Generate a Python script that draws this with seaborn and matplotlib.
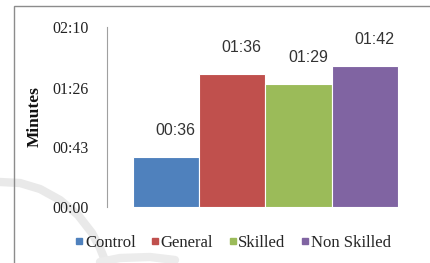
import matplotlib
matplotlib.use("Agg")
import matplotlib.pyplot as plt
import seaborn as sns
import pandas as pd
from matplotlib.lines import Line2D
from matplotlib.patches import Rectangle

categories = ["Control", "General", "Skilled", "Non Skilled"]
seconds = [36, 96, 89, 102]
labels = ["00:36", "01:36", "01:29", "01:42"]
tick_values = [0, 43, 86, 130]
tick_labels = ["00:00", "00:43", "01:26", "02:10"]
colors = ["#4F81BD", "#C0504D", "#9BBB59", "#8064A2"]

sns.set_theme(style="white")
plt.rcParams["font.family"] = ["Liberation Serif", "DejaVu Serif"]
SERIF = ["Liberation Serif", "DejaVu Serif"]

df = pd.DataFrame({"cat": categories, "sec": seconds})

W, H = 430, 263
fig = plt.figure(figsize=(W / 100, H / 100), dpi=100)
fig.patch.set_facecolor("white")

# faint background watermark swoosh (decoration)
bg = fig.add_axes([0, 0, 1, 1], zorder=-5)
bg.set_xlim(0, W)
bg.set_ylim(H, 0)
bg.axis("off")
bg.plot([0, 20, 40, 60, 78, 92, 100, 106], [182, 183, 189, 200, 215, 233, 248, 263],
        color="#e9e9e9", lw=6, solid_capstyle="round")
bg.plot([100, 120, 150, 175], [262, 258, 257, 260], color="#ececec", lw=6)

# chart border
fig.add_artist(Rectangle((14 / W, -0.05), 1.0, 1 - 6 / H + 0.05, transform=fig.transFigure,
                         fill=False, edgecolor="#8c8c8c", lw=1.0, zorder=1))

ax = fig.add_axes([107 / W, 1 - 207 / H, (424 - 107) / W, 180 / H])
ax.set_facecolor("none")
sns.barplot(data=df, x="cat", y="sec", hue="cat", palette=colors, width=1.0,
            saturation=1, dodge=False, legend=False, ax=ax,
            edgecolor="white", linewidth=0.8)

ax.set_xlim(-0.5 - 0.39, 3.5 + 0.39)
ax.set_ylim(0, 130)
ax.set_yticks(tick_values)
ax.set_yticklabels(tick_labels, fontsize=11.5, color="#222222", family=SERIF)
ax.set_xticks([])
ax.set_xlabel("")
ax.set_ylabel("Minutes", fontsize=12.5, fontweight="bold", color="#111111", labelpad=7,
              family=SERIF)
ax.tick_params(axis="y", length=0, pad=13)
for s in ["top", "right", "bottom"]:
    ax.spines[s].set_visible(False)
ax.spines["left"].set_color("#a0a0a0")
ax.spines["left"].set_linewidth(0.8)

for i, (v, lab) in enumerate(zip(seconds, labels)):
    ax.text(i + 0.14, v + 19, lab, ha="center", va="center", fontsize=11.5,
            family=["Liberation Sans", "DejaVu Sans"], color="#333333")

handles = [Line2D([], [], marker="s", linestyle="none", markersize=5,
                  markerfacecolor=c, markeredgecolor=c) for c in colors]
fig.legend(handles, categories, loc="center", bbox_to_anchor=(232 / W, 1 - 243 / H),
           ncol=4, frameon=False, prop={"family": SERIF, "size": 12},
           handletextpad=0.0, columnspacing=0.8, handlelength=0.7)

fig.savefig("out.png", dpi=100)
